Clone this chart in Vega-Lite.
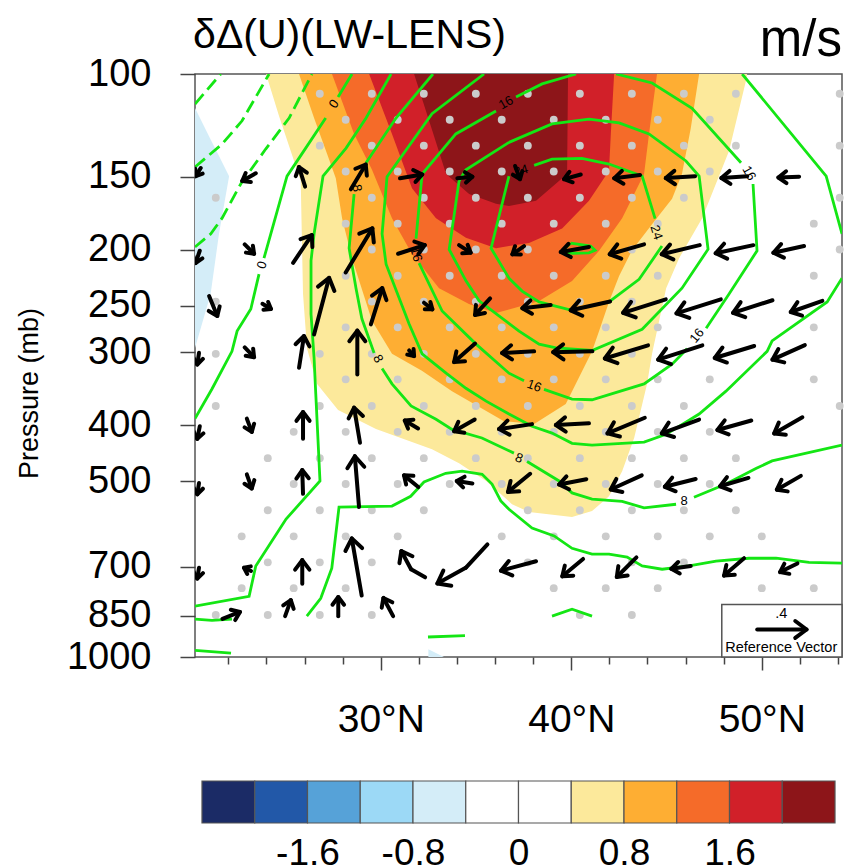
{"$schema":"https://vega.github.io/schema/vega-lite/v6.json","background":"white","padding":{"left":14,"top":14,"right":0,"bottom":0},"spacing":40,"config":{"font":"Liberation Sans"},"resolve":{"scale":{"color":"independent"}},
"datasets":{
"bands":[
{"band":"-0.4","lat":20.25,"p":295,"p2":114.4},{"band":"-0.4","lat":21.07,"p":238.5,"p2":129.5},{"band":"-0.4","lat":21.51,"p":188,"p2":138.3},{"band":"-0.4","lat":22.04,"p":149.7,"p2":149.7},
{"band":"-0.4b","lat":32.5,"p":1000,"p2":970},{"band":"-0.4b","lat":33.32,"p":1000,"p2":1000},
{"band":"0.4","lat":23.98,"p":100,"p2":100},{"band":"0.4","lat":24.66,"p":118,"p2":100},{"band":"0.4","lat":25.45,"p":141,"p2":100},{"band":"0.4","lat":25.8,"p":152.6,"p2":100},{"band":"0.4","lat":25.87,"p":199,"p2":100},{"band":"0.4","lat":25.92,"p":238.5,"p2":100},{"band":"0.4","lat":26.13,"p":295.8,"p2":100},{"band":"0.4","lat":26.66,"p":340.3,"p2":100},{"band":"0.4","lat":27.76,"p":377,"p2":100},{"band":"0.4","lat":29.75,"p":406.5,"p2":100},{"band":"0.4","lat":32.69,"p":440,"p2":100},{"band":"0.4","lat":34.11,"p":465,"p2":100},{"band":"0.4","lat":35.53,"p":499,"p2":100},{"band":"0.4","lat":36.89,"p":546.8,"p2":100},{"band":"0.4","lat":37.78,"p":564,"p2":100},{"band":"0.4","lat":40.04,"p":575,"p2":100},{"band":"0.4","lat":41.09,"p":562,"p2":100},{"band":"0.4","lat":41.98,"p":530,"p2":100},{"band":"0.4","lat":42.67,"p":480,"p2":100},{"band":"0.4","lat":43.3,"p":421,"p2":100},{"band":"0.4","lat":43.98,"p":340,"p2":100},{"band":"0.4","lat":44.24,"p":302,"p2":100},{"band":"0.4","lat":44.98,"p":233,"p2":100},{"band":"0.4","lat":45.66,"p":207,"p2":100},{"band":"0.4","lat":46.87,"p":176.7,"p2":100},{"band":"0.4","lat":48.28,"p":135.6,"p2":100},{"band":"0.4","lat":49.16,"p":103,"p2":100},{"band":"0.4","lat":49.23,"p":100,"p2":100},
{"band":"0.8","lat":25.71,"p":100,"p2":100},{"band":"0.8","lat":26.5,"p":119,"p2":100},{"band":"0.8","lat":27.18,"p":137,"p2":100},{"band":"0.8","lat":27.64,"p":151,"p2":100},{"band":"0.8","lat":27.97,"p":176.7,"p2":100},{"band":"0.8","lat":28.49,"p":207,"p2":100},{"band":"0.8","lat":29.54,"p":265,"p2":100},{"band":"0.8","lat":30.59,"p":302,"p2":100},{"band":"0.8","lat":32.16,"p":323,"p2":100},{"band":"0.8","lat":33.74,"p":350,"p2":100},{"band":"0.8","lat":36.47,"p":394,"p2":100},{"band":"0.8","lat":38.05,"p":398.6,"p2":100},{"band":"0.8","lat":39.71,"p":368,"p2":100},{"band":"0.8","lat":41.09,"p":299,"p2":100},{"band":"0.8","lat":41.46,"p":276,"p2":100},{"band":"0.8","lat":41.98,"p":246,"p2":100},{"band":"0.8","lat":42.51,"p":222,"p2":100},{"band":"0.8","lat":43.19,"p":200.5,"p2":100},{"band":"0.8","lat":44.24,"p":181,"p2":100},{"band":"0.8","lat":45.29,"p":163.6,"p2":100},{"band":"0.8","lat":45.81,"p":148.5,"p2":100},{"band":"0.8","lat":46.27,"p":124,"p2":100},{"band":"0.8","lat":46.71,"p":100,"p2":100},
{"band":"1.2","lat":27.44,"p":100,"p2":100},{"band":"1.2","lat":28.6,"p":126.7,"p2":100},{"band":"1.2","lat":29.54,"p":146,"p2":100},{"band":"1.2","lat":30.59,"p":176.7,"p2":100},{"band":"1.2","lat":31.64,"p":203.6,"p2":100},{"band":"1.2","lat":33.06,"p":233,"p2":100},{"band":"1.2","lat":34.63,"p":248,"p2":100},{"band":"1.2","lat":36.05,"p":257,"p2":100},{"band":"1.2","lat":36.73,"p":253.5,"p2":100},{"band":"1.2","lat":38.31,"p":245,"p2":100},{"band":"1.2","lat":40.04,"p":226.6,"p2":100},{"band":"1.2","lat":41.46,"p":201,"p2":100},{"band":"1.2","lat":42.67,"p":176.7,"p2":100},{"band":"1.2","lat":43.82,"p":148.5,"p2":100},{"band":"1.2","lat":44.08,"p":126.7,"p2":100},{"band":"1.2","lat":44.5,"p":100,"p2":100},
{"band":"1.6","lat":29.39,"p":100,"p2":100},{"band":"1.6","lat":30.59,"p":126.7,"p2":100},{"band":"1.6","lat":31.64,"p":157,"p2":100},{"band":"1.6","lat":32.9,"p":176.7,"p2":100},{"band":"1.6","lat":34.47,"p":191,"p2":100},{"band":"1.6","lat":36.05,"p":199,"p2":100},{"band":"1.6","lat":36.73,"p":197.3,"p2":100},{"band":"1.6","lat":37.78,"p":195,"p2":100},{"band":"1.6","lat":39.52,"p":184,"p2":100},{"band":"1.6","lat":40.93,"p":165,"p2":100},{"band":"1.6","lat":41.98,"p":146.5,"p2":100},{"band":"1.6","lat":42.09,"p":124,"p2":100},{"band":"1.6","lat":42.25,"p":100,"p2":100},
{"band":"2.0","lat":31.75,"p":100,"p2":100},{"band":"2.0","lat":32.69,"p":124.6,"p2":100},{"band":"2.0","lat":33.43,"p":148.5,"p2":100},{"band":"2.0","lat":34.64,"p":160.7,"p2":100},{"band":"2.0","lat":36.05,"p":167,"p2":100},{"band":"2.0","lat":36.73,"p":168.5,"p2":100},{"band":"2.0","lat":38.15,"p":165,"p2":100},{"band":"2.0","lat":39.78,"p":148.5,"p2":100},{"band":"2.0","lat":39.83,"p":100,"p2":100}
],
"dots":[
{"lat":26.8,"p":108.1},{"lat":29.53,"p":108.1},{"lat":32.26,"p":108.1},{"lat":34.99,"p":108.1},{"lat":37.72,"p":108.1},{"lat":40.45,"p":108.1},{"lat":43.18,"p":108.1},{"lat":45.91,"p":108.1},{"lat":48.64,"p":108.1},{"lat":54.09,"p":108.1},
{"lat":28.16,"p":119.8},{"lat":30.89,"p":119.8},{"lat":33.62,"p":119.8},{"lat":36.35,"p":119.8},{"lat":39.08,"p":119.8},{"lat":41.81,"p":119.8},{"lat":44.54,"p":119.8},{"lat":47.27,"p":119.8},
{"lat":26.8,"p":132.7},{"lat":29.53,"p":132.7},{"lat":32.26,"p":132.7},{"lat":34.99,"p":132.7},{"lat":37.72,"p":132.7},{"lat":40.45,"p":132.7},{"lat":43.18,"p":132.7},{"lat":45.91,"p":132.7},{"lat":48.64,"p":132.7},{"lat":54.09,"p":132.7},
{"lat":28.16,"p":147},{"lat":30.89,"p":147},{"lat":33.62,"p":147},{"lat":36.35,"p":147},{"lat":39.08,"p":147},{"lat":41.81,"p":147},{"lat":44.54,"p":147},{"lat":47.27,"p":147},
{"lat":21.34,"p":163},{"lat":29.53,"p":163},{"lat":32.26,"p":163},{"lat":34.99,"p":163},{"lat":37.72,"p":163},{"lat":40.45,"p":163},{"lat":43.18,"p":163},{"lat":45.91,"p":163},{"lat":54.09,"p":163},
{"lat":28.16,"p":180.6},{"lat":30.89,"p":180.6},{"lat":33.62,"p":180.6},{"lat":36.35,"p":180.6},{"lat":39.08,"p":180.6},{"lat":41.81,"p":180.6},{"lat":44.54,"p":180.6},{"lat":52.73,"p":180.6},
{"lat":29.53,"p":200},{"lat":32.26,"p":200},{"lat":34.99,"p":200},{"lat":37.72,"p":200},{"lat":43.18,"p":200},{"lat":54.09,"p":200},
{"lat":28.16,"p":221.8},{"lat":30.89,"p":221.8},{"lat":33.62,"p":221.8},{"lat":36.35,"p":221.8},{"lat":39.08,"p":221.8},{"lat":41.81,"p":221.8},{"lat":44.54,"p":221.8},{"lat":52.73,"p":221.8},
{"lat":21.34,"p":245.7},{"lat":29.53,"p":245.7},{"lat":32.26,"p":245.7},{"lat":34.99,"p":245.7},{"lat":37.72,"p":245.7},{"lat":40.45,"p":245.7},{"lat":43.18,"p":245.7},
{"lat":28.16,"p":272},{"lat":30.89,"p":272},{"lat":33.62,"p":272},{"lat":36.35,"p":272},{"lat":39.08,"p":272},{"lat":41.81,"p":272},{"lat":44.54,"p":272},{"lat":52.73,"p":272},
{"lat":21.34,"p":302},{"lat":26.8,"p":302},{"lat":29.53,"p":302},{"lat":32.26,"p":302},{"lat":34.99,"p":302},{"lat":37.72,"p":302},{"lat":40.45,"p":302},{"lat":43.18,"p":302},
{"lat":28.16,"p":334},{"lat":30.89,"p":334},{"lat":33.62,"p":334},{"lat":36.35,"p":334},{"lat":39.08,"p":334},{"lat":41.81,"p":334},{"lat":44.54,"p":334},{"lat":47.27,"p":334},{"lat":52.73,"p":334},
{"lat":21.34,"p":371},{"lat":26.8,"p":371},{"lat":29.53,"p":371},{"lat":32.26,"p":371},{"lat":34.99,"p":371},{"lat":37.72,"p":371},{"lat":40.45,"p":371},{"lat":43.18,"p":371},{"lat":45.91,"p":371},{"lat":54.09,"p":371},
{"lat":25.43,"p":411},{"lat":28.16,"p":411},{"lat":30.89,"p":411},{"lat":33.62,"p":411},{"lat":36.35,"p":411},{"lat":39.08,"p":411},{"lat":41.81,"p":411},{"lat":44.54,"p":411},{"lat":47.27,"p":411},
{"lat":24.07,"p":456},{"lat":26.8,"p":456},{"lat":29.53,"p":456},{"lat":32.26,"p":456},{"lat":34.99,"p":456},{"lat":37.72,"p":456},{"lat":40.45,"p":456},{"lat":43.18,"p":456},{"lat":45.91,"p":456},{"lat":48.64,"p":456},
{"lat":25.43,"p":505},{"lat":28.16,"p":505},{"lat":30.89,"p":505},{"lat":33.62,"p":505},{"lat":36.35,"p":505},{"lat":39.08,"p":505},{"lat":41.81,"p":505},{"lat":44.54,"p":505},{"lat":47.27,"p":505},
{"lat":24.07,"p":560},{"lat":26.8,"p":560},{"lat":29.53,"p":560},{"lat":32.26,"p":560},{"lat":37.72,"p":560},{"lat":40.45,"p":560},{"lat":43.18,"p":560},{"lat":45.91,"p":560},{"lat":48.64,"p":560},
{"lat":22.7,"p":621},{"lat":25.43,"p":621},{"lat":28.16,"p":621},{"lat":30.89,"p":621},{"lat":36.35,"p":621},{"lat":39.08,"p":621},{"lat":41.81,"p":621},{"lat":44.54,"p":621},{"lat":47.27,"p":621},{"lat":50.0,"p":621},
{"lat":24.07,"p":688},{"lat":26.8,"p":688},{"lat":29.53,"p":688},{"lat":37.72,"p":688},{"lat":43.18,"p":688},{"lat":45.91,"p":688},
{"lat":22.7,"p":762},{"lat":25.43,"p":762},{"lat":28.16,"p":762},{"lat":39.08,"p":762},{"lat":41.81,"p":762},{"lat":44.54,"p":762},{"lat":50.0,"p":762},{"lat":52.73,"p":762},
{"lat":21.34,"p":847},{"lat":24.07,"p":847},{"lat":26.8,"p":847},{"lat":29.53,"p":847},{"lat":40.45,"p":847},{"lat":43.18,"p":847}
],
"dashed":[
{"c":"a","lat":20.25,"p":112.6},{"c":"a","lat":21.6,"p":100},
{"c":"b","lat":20.25,"p":144.4},{"c":"b","lat":21.67,"p":131.9},{"c":"b","lat":22.72,"p":120.3},{"c":"b","lat":24.14,"p":100},
{"c":"c","lat":20.25,"p":198},{"c":"c","lat":21.08,"p":188},{"c":"c","lat":21.67,"p":176.7},{"c":"c","lat":22.65,"p":154.4},{"c":"c","lat":23.96,"p":134.5},{"c":"c","lat":25.19,"p":119},{"c":"c","lat":26.39,"p":100}
],
"contours":[
{"c":"0a","lat":28.49,"p":100},{"c":"0a","lat":27.76,"p":109.5},
{"c":"0b","lat":27.11,"p":119},{"c":"0b","lat":26.06,"p":134},{"c":"0b","lat":25.08,"p":149.7},{"c":"0b","lat":24.56,"p":172},{"c":"0b","lat":23.87,"p":207},
{"c":"0c","lat":23.61,"p":220.4},{"c":"0c","lat":23.18,"p":253},{"c":"0c","lat":22.46,"p":276},{"c":"0c","lat":22.19,"p":299},{"c":"0c","lat":21.14,"p":347},{"c":"0c","lat":20.25,"p":390},
{"c":"4","lat":30.54,"p":100},{"c":"4","lat":29.23,"p":119},{"c":"4","lat":28.18,"p":134},{"c":"4","lat":26.97,"p":149.7},{"c":"4","lat":26.5,"p":188},{"c":"4","lat":26.34,"p":209},{"c":"4","lat":26.34,"p":258},{"c":"4","lat":26.5,"p":307},{"c":"4","lat":26.59,"p":354},{"c":"4","lat":26.81,"p":499},{"c":"4","lat":25.03,"p":580},{"c":"4","lat":23.44,"p":698},{"c":"4","lat":23.09,"p":787},{"c":"4","lat":20.25,"p":818},
{"c":"8a","lat":32.74,"p":100},{"c":"8a","lat":30.8,"p":119},{"c":"8a","lat":29.23,"p":142},
{"c":"8b","lat":28.6,"p":160.7},{"c":"8b","lat":28.34,"p":199},{"c":"8b","lat":28.7,"p":233},{"c":"8b","lat":29.01,"p":263},{"c":"8b","lat":29.65,"p":301},
{"c":"8c","lat":30.07,"p":320},{"c":"8c","lat":30.59,"p":340},{"c":"8c","lat":31.59,"p":371},{"c":"8c","lat":32.9,"p":391},{"c":"8c","lat":33.74,"p":407},{"c":"8c","lat":35.31,"p":421},{"c":"8c","lat":36.99,"p":447},
{"c":"8d","lat":37.68,"p":462},{"c":"8d","lat":39.36,"p":499},{"c":"8d","lat":40.04,"p":523},{"c":"8d","lat":41.09,"p":536},{"c":"8d","lat":42.67,"p":541},{"c":"8d","lat":43.82,"p":555},{"c":"8d","lat":45.5,"p":547},
{"c":"8e","lat":46.44,"p":532},{"c":"8e","lat":48.12,"p":505},{"c":"8e","lat":49.69,"p":475},{"c":"8e","lat":50.54,"p":461},{"c":"8e","lat":54.21,"p":433},
{"c":"4b","lat":26.12,"p":851},{"c":"4b","lat":26.85,"p":793},{"c":"4b","lat":27.43,"p":704},{"c":"4b","lat":27.81,"p":553},{"c":"4b","lat":30.59,"p":551},{"c":"4b","lat":31.57,"p":530},{"c":"4b","lat":32.27,"p":501},{"c":"4b","lat":33.41,"p":484},{"c":"4b","lat":34.27,"p":480},{"c":"4b","lat":35.32,"p":486},{"c":"4b","lat":35.84,"p":505},{"c":"4b","lat":36.3,"p":540},{"c":"4b","lat":36.73,"p":558},{"c":"4b","lat":37.94,"p":601},{"c":"4b","lat":39.1,"p":620},{"c":"4b","lat":40.04,"p":651},{"c":"4b","lat":41.09,"p":666},{"c":"4b","lat":41.98,"p":666},{"c":"4b","lat":42.93,"p":674},{"c":"4b","lat":43.72,"p":698},{"c":"4b","lat":44.77,"p":707},{"c":"4b","lat":46.18,"p":698},{"c":"4b","lat":47.6,"p":685},{"c":"4b","lat":49.33,"p":677},{"c":"4b","lat":50.75,"p":677},{"c":"4b","lat":52.48,"p":688},{"c":"4b","lat":54.21,"p":690},
{"c":"s1","lat":20.25,"p":861},{"c":"s1","lat":21.14,"p":865},{"c":"s1","lat":22.19,"p":861},
{"c":"s2","lat":20.25,"p":974},{"c":"s2","lat":22.14,"p":985},
{"c":"s3","lat":32.48,"p":924},{"c":"s3","lat":34.42,"p":919},
{"c":"s4","lat":38.99,"p":851},{"c":"s4","lat":40.04,"p":828},{"c":"s4","lat":41.09,"p":851},
{"c":"12a","lat":35.42,"p":100},{"c":"12a","lat":32.69,"p":117},{"c":"12a","lat":30.33,"p":150},{"c":"12a","lat":30.07,"p":188},{"c":"12a","lat":30.28,"p":212},{"c":"12a","lat":31.49,"p":268.5},{"c":"12a","lat":32.17,"p":302},{"c":"12a","lat":33.43,"p":326},{"c":"12a","lat":34.47,"p":346},{"c":"12a","lat":35.53,"p":364},{"c":"12a","lat":36.73,"p":383},{"c":"12a","lat":37.94,"p":402},{"c":"12a","lat":38.99,"p":413},{"c":"12a","lat":40.04,"p":430},{"c":"12a","lat":41.09,"p":433},{"c":"12a","lat":42.67,"p":430},{"c":"12a","lat":43.82,"p":428},{"c":"12a","lat":44.98,"p":415},{"c":"12a","lat":46.71,"p":383},{"c":"12a","lat":48.12,"p":350},{"c":"12a","lat":50.28,"p":299},{"c":"12a","lat":50.54,"p":287},{"c":"12a","lat":53.43,"p":246},{"c":"12a","lat":54.21,"p":224},
{"c":"12b","lat":54.21,"p":188},{"c":"12b","lat":53.38,"p":149.7},{"c":"12b","lat":48.97,"p":100},
{"c":"16a","lat":40.25,"p":100},{"c":"16a","lat":38.47,"p":104},{"c":"16a","lat":37.1,"p":109.5},
{"c":"16b","lat":36.05,"p":115.7},{"c":"16b","lat":33.94,"p":126.7},{"c":"16b","lat":32.17,"p":148.5},{"c":"16b","lat":31.85,"p":191.6},
{"c":"16c","lat":32.01,"p":211},{"c":"16c","lat":33.22,"p":255},{"c":"16c","lat":35,"p":290.6},{"c":"16c","lat":36.73,"p":326},{"c":"16c","lat":37.52,"p":336},
{"c":"16d","lat":38.57,"p":347.5},{"c":"16d","lat":40.04,"p":361},{"c":"16d","lat":41.09,"p":362},{"c":"16d","lat":43.82,"p":340},{"c":"16d","lat":45.29,"p":314.5},{"c":"16d","lat":46.08,"p":296},
{"c":"16e","lat":47.08,"p":273},{"c":"16e","lat":48.28,"p":238.5},{"c":"16e","lat":49.75,"p":201},{"c":"16e","lat":49.54,"p":154.4},
{"c":"16f","lat":48.91,"p":142},{"c":"16f","lat":46.34,"p":114.5},{"c":"16f","lat":44.24,"p":103.6},{"c":"16f","lat":42.35,"p":100},
{"c":"20","lat":36.73,"p":131},{"c":"20","lat":38.99,"p":121.8},{"c":"20","lat":40.93,"p":119.5},{"c":"20","lat":42.51,"p":121.3},{"c":"20","lat":44.08,"p":126.7},{"c":"20","lat":46.02,"p":141},{"c":"20","lat":46.71,"p":149.7},{"c":"20","lat":47.18,"p":199.8},{"c":"20","lat":45.81,"p":233},{"c":"20","lat":43.72,"p":274},{"c":"20","lat":41.09,"p":298},{"c":"20","lat":39.2,"p":295},{"c":"20","lat":38.31,"p":290.6},{"c":"20","lat":37.26,"p":276},{"c":"20","lat":35.16,"p":245},{"c":"20","lat":34.48,"p":226.6},{"c":"20","lat":33.59,"p":200},{"c":"20","lat":34.11,"p":152.6},{"c":"20","lat":34.47,"p":146},{"c":"20","lat":36.73,"p":131},
{"c":"24a","lat":38.05,"p":143.5},{"c":"24a","lat":38.99,"p":140},{"c":"24a","lat":40.56,"p":139.5},{"c":"24a","lat":41.98,"p":142.7},{"c":"24a","lat":43.72,"p":149.7},{"c":"24a","lat":44.4,"p":177},
{"c":"24b","lat":44.76,"p":197.3},{"c":"24b","lat":43.56,"p":225},{"c":"24b","lat":41.98,"p":246},{"c":"24b","lat":39.98,"p":254},{"c":"24b","lat":38.31,"p":246},{"c":"24b","lat":37.42,"p":235.7},{"c":"24b","lat":36.73,"p":224},{"c":"24b","lat":35.79,"p":199},{"c":"24b","lat":36.73,"p":149.7},
{"c":"28","lat":39.97,"p":195},{"c":"28","lat":41.02,"p":197.3},{"c":"28","lat":41.25,"p":200.6},{"c":"28","lat":40.93,"p":202.7},{"c":"28","lat":40.04,"p":203},{"c":"28","lat":39.52,"p":201},{"c":"28","lat":39.97,"p":195}
],
"labels":[
{"lat":27.55,"p":112.6,"t":"0","angle":-55},{"lat":23.77,"p":212.7,"t":"0","angle":-72},{"lat":28.75,"p":157,"t":"8","angle":80},{"lat":31.85,"p":204,"t":"16","angle":75},{"lat":29.86,"p":308,"t":"8","angle":62},{"lat":37.26,"p":456,"t":"8","angle":20},{"lat":45.92,"p":541,"t":"8","angle":0},{"lat":36.57,"p":112,"t":"16","angle":-30},{"lat":38.05,"p":343,"t":"16","angle":20},{"lat":46.6,"p":281,"t":"16","angle":-50},{"lat":49.33,"p":148,"t":"16","angle":60},{"lat":37.36,"p":146.5,"t":"24","angle":-15},{"lat":44.46,"p":187,"t":"24","angle":72}
],
"arrows":[
{"lat":20.55,"p":145,"lat2":20.29,"p2":149.7,"dir":-147,"mag":0.07},{"lat":23.44,"p":148,"lat2":22.73,"p2":152.6,"dir":-120,"mag":0.12},{"lat":26.03,"p":156,"lat2":25.71,"p2":144.4,"dir":-17,"mag":0.16},{"lat":28.43,"p":157.7,"lat2":29.21,"p2":143,"dir":31,"mag":0.23},{"lat":31.01,"p":151,"lat2":32.18,"p2":148.7,"dir":79,"mag":0.18},{"lat":34.02,"p":151,"lat2":34.81,"p2":150,"dir":84,"mag":0.12},{"lat":37.05,"p":143.8,"lat2":37.31,"p2":151.5,"dir":159,"mag":0.11},{"lat":40.5,"p":148.7,"lat2":39.62,"p2":151.5,"dir":-107,"mag":0.14},{"lat":43.61,"p":149,"lat2":42.25,"p2":151,"dir":-97,"mag":0.21},{"lat":46.5,"p":149.7,"lat2":44.96,"p2":150.8,"dir":-93,"mag":0.23},{"lat":49.24,"p":149.7,"lat2":47.88,"p2":150.8,"dir":-94,"mag":0.21},{"lat":51.96,"p":150,"lat2":50.87,"p2":150.5,"dir":-92,"mag":0.17},
{"lat":20.5,"p":201,"lat2":20.28,"p2":211,"dir":-161,"mag":0.1},{"lat":22.86,"p":196,"lat2":23.35,"p2":203.4,"dir":135,"mag":0.1},{"lat":25.4,"p":210.8,"lat2":26.38,"p2":189,"dir":34,"mag":0.27},{"lat":28.16,"p":219,"lat2":29.56,"p2":184,"dir":31,"mag":0.41},{"lat":30.91,"p":203.4,"lat2":32.31,"p2":196.6,"dir":72.5,"mag":0.22},{"lat":34.11,"p":196.6,"lat2":34.72,"p2":202.5,"dir":122,"mag":0.11},{"lat":37.52,"p":197.3,"lat2":36.91,"p2":203.8,"dir":-125,"mag":0.11},{"lat":40.93,"p":198,"lat2":39.45,"p2":202,"dir":-100,"mag":0.23},{"lat":43.82,"p":196,"lat2":42.02,"p2":203.8,"dir":-106,"mag":0.29},{"lat":46.74,"p":196.6,"lat2":44.75,"p2":203.8,"dir":-103,"mag":0.31},{"lat":49.56,"p":196.6,"lat2":47.58,"p2":203,"dir":-102,"mag":0.31},{"lat":52.22,"p":197.3,"lat2":50.61,"p2":202.6,"dir":-102,"mag":0.25},
{"lat":20.99,"p":240.4,"lat2":21.42,"p2":260,"dir":157,"mag":0.17},{"lat":23.79,"p":247.8,"lat2":24.24,"p2":253,"dir":121,"mag":0.08},{"lat":26.5,"p":279.7,"lat2":27.29,"p2":223.7,"dir":15,"mag":0.47},{"lat":29.48,"p":268.8,"lat2":30.08,"p2":233,"dir":17.6,"mag":0.31},{"lat":32.27,"p":246.8,"lat2":32.71,"p2":253.3,"dir":128,"mag":0.08},{"lat":35.74,"p":242.6,"lat2":34.95,"p2":259,"dir":-138,"mag":0.18},{"lat":38.92,"p":249,"lat2":37.43,"p2":252.2,"dir":-97,"mag":0.23},{"lat":42.04,"p":245.6,"lat2":39.97,"p2":254.3,"dir":-102,"mag":0.32},{"lat":44.96,"p":243.5,"lat2":42.72,"p2":256.8,"dir":-107,"mag":0.36},{"lat":47.85,"p":243.5,"lat2":45.52,"p2":257.4,"dir":-107.5,"mag":0.37},{"lat":50.56,"p":244.4,"lat2":48.49,"p2":256.8,"dir":-107.5,"mag":0.33},{"lat":53.18,"p":245,"lat2":51.52,"p2":256,"dir":-109,"mag":0.27},
{"lat":20.46,"p":300.8,"lat2":20.37,"p2":315,"dir":-172,"mag":0.09},{"lat":22.86,"p":294.4,"lat2":23.35,"p2":306,"dir":137,"mag":0.11},{"lat":25.71,"p":319,"lat2":25.97,"p2":281.5,"dir":9,"mag":0.26},{"lat":28.77,"p":327.6,"lat2":28.77,"p2":275.5,"dir":0,"mag":0.35},{"lat":31.49,"p":298,"lat2":31.75,"p2":304.7,"dir":139,"mag":0.06},{"lat":34.95,"p":290,"lat2":33.85,"p2":312,"dir":-131,"mag":0.22},{"lat":38.05,"p":299,"lat2":36.37,"p2":301,"dir":-94,"mag":0.26},{"lat":41.11,"p":299,"lat2":39.05,"p2":300,"dir":-91.5,"mag":0.31},{"lat":44.03,"p":292,"lat2":41.76,"p2":307.6,"dir":-107,"mag":0.36},{"lat":46.88,"p":292,"lat2":44.56,"p2":309,"dir":-107.5,"mag":0.37},{"lat":49.6,"p":292.8,"lat2":47.53,"p2":307,"dir":-106.6,"mag":0.33},{"lat":52.26,"p":291.7,"lat2":50.56,"p2":309,"dir":-114,"mag":0.28},
{"lat":20.5,"p":402,"lat2":20.37,"p2":422.5,"dir":-169,"mag":0.1},{"lat":22.97,"p":390,"lat2":23.23,"p2":411,"dir":159,"mag":0.11},{"lat":25.92,"p":422.5,"lat2":25.92,"p2":380,"dir":0,"mag":0.22},{"lat":28.91,"p":429,"lat2":28.6,"p2":373.5,"dir":-10,"mag":0.28},{"lat":31.96,"p":405.6,"lat2":31.26,"p2":393,"dir":-59,"mag":0.12},{"lat":34.93,"p":391.5,"lat2":33.85,"p2":410,"dir":-119,"mag":0.19},{"lat":37.94,"p":398.6,"lat2":36.21,"p2":406.5,"dir":-98.6,"mag":0.27},{"lat":40.93,"p":397.4,"lat2":39.19,"p2":400,"dir":-93,"mag":0.27},{"lat":43.86,"p":388.7,"lat2":41.9,"p2":413.5,"dir":-113,"mag":0.32},{"lat":46.71,"p":391.5,"lat2":44.75,"p2":413.5,"dir":-110.6,"mag":0.32},{"lat":49.45,"p":393,"lat2":47.67,"p2":408,"dir":-106,"mag":0.28},{"lat":52.13,"p":388,"lat2":50.65,"p2":413.5,"dir":-120,"mag":0.26},
{"lat":20.46,"p":503,"lat2":20.37,"p2":526,"dir":-172,"mag":0.09},{"lat":22.97,"p":486,"lat2":23.23,"p2":514,"dir":160,"mag":0.12},{"lat":25.92,"p":525,"lat2":25.88,"p2":478,"dir":-2,"mag":0.19},{"lat":28.86,"p":553,"lat2":28.64,"p2":452.5,"dir":-5,"mag":0.41},{"lat":31.97,"p":511,"lat2":31.22,"p2":488,"dir":-50,"mag":0.15},{"lat":34.81,"p":504,"lat2":33.99,"p2":499,"dir":-82,"mag":0.13},{"lat":37.84,"p":485,"lat2":36.68,"p2":521,"dir":-130,"mag":0.23},{"lat":40.79,"p":495.5,"lat2":39.36,"p2":506,"dir":-101,"mag":0.22},{"lat":43.7,"p":488,"lat2":42.07,"p2":516,"dir":-115,"mag":0.27},{"lat":46.53,"p":495,"lat2":44.91,"p2":510.6,"dir":-104.5,"mag":0.26},{"lat":49.3,"p":493,"lat2":47.81,"p2":509.5,"dir":-106,"mag":0.24},{"lat":52.05,"p":489,"lat2":50.79,"p2":516.4,"dir":-118,"mag":0.22},
{"lat":20.46,"p":703,"lat2":20.37,"p2":733.6,"dir":-171,"mag":0.09},{"lat":23.19,"p":712,"lat2":22.82,"p2":703,"dir":-65,"mag":0.06},{"lat":25.88,"p":749,"lat2":25.88,"p2":682,"dir":0,"mag":0.27},{"lat":29,"p":784.5,"lat2":28.48,"p2":626,"dir":-10,"mag":0.46},{"lat":32.33,"p":730,"lat2":31.59,"p2":707},{"lat":31.59,"p":707,"lat2":31.08,"p2":658,"dir":-28,"mag":0.29},{"lat":35.6,"p":641,"lat2":34.46,"p2":703},{"lat":34.46,"p":703,"lat2":32.97,"p2":748,"dir":-118,"mag":0.4},{"lat":38.15,"p":685,"lat2":36.31,"p2":711,"dir":-104,"mag":0.29},{"lat":40.62,"p":679,"lat2":39.53,"p2":727,"dir":-130,"mag":0.22},{"lat":43.42,"p":674.5,"lat2":42.39,"p2":729,"dir":-135,"mag":0.22},{"lat":46.27,"p":698,"lat2":45.25,"p2":706,"dir":-98,"mag":0.16},{"lat":49.07,"p":677,"lat2":48.02,"p2":725,"dir":-131,"mag":0.21},{"lat":51.87,"p":691,"lat2":50.96,"p2":715,"dir":-116,"mag":0.15},
{"lat":21.69,"p":860,"lat2":22.61,"p2":837,"dir":67,"mag":0.15},{"lat":24.98,"p":851,"lat2":25.28,"p2":799,"dir":19,"mag":0.14},{"lat":27.77,"p":851,"lat2":27.77,"p2":789,"dir":0,"mag":0.16},{"lat":30.65,"p":851,"lat2":30.14,"p2":792,"dir":-27,"mag":0.17},
{"lat":49.76,"p":897,"lat2":52.35,"p2":897,"dir":90,"mag":0.4}
],
"refbox":[{"lat":47.9,"p":812.6,"lat2":54.21,"p2":1000}],
"reftext":[{"lat":51.02,"p":845,"t":".4"},{"lat":51.02,"p":965,"t":"Reference Vector"}],
"headL":[{"lat":20.15,"p":90.2,"t":"δΔ(U)(LW-LENS)"}],
"headR":[{"lat":54.21,"p":93.1,"t":"m/s"}],
"bar":[{"lo":-2.4,"hi":-2.0},{"lo":-2.0,"hi":-1.6},{"lo":-1.6,"hi":-1.2},{"lo":-1.2,"hi":-0.8},{"lo":-0.8,"hi":-0.4},{"lo":-0.4,"hi":0},{"lo":0,"hi":0.4},{"lo":0.4,"hi":0.8},{"lo":0.8,"hi":1.2},{"lo":1.2,"hi":1.6},{"lo":1.6,"hi":2.0},{"lo":2.0,"hi":2.4}]
},
"vconcat":[
{"width":647,"height":583,"view":{"stroke":"#555","strokeWidth":1.5},
"encoding":{
"x":{"field":"lat","type":"quantitative","title":null,"scale":{"domain":[20.25,54.21],"nice":false,"zero":false},
 "axis":{"values":[22,24,26,28,30,32,34,36,38,40,42,44,46,48,50,52,54],"grid":false,"domain":false,"tickColor":"#444","tickWidth":1.5,"tickSize":{"expr":"datum.value%10===0?13:7"},"labelExpr":"datum.value%10===0?datum.value+'°N':''","labelFontSize":39,"labelFont":"Liberation Sans","labelColor":"black","labelPadding":30,"labelOverlap":false,"labelFlush":false,"labelBound":false}},
"y":{"field":"p","type":"quantitative","stack":null,"scale":{"type":"log","domain":[1000,100],"nice":false,"zero":false},"title":"Pressure (mb)",
 "axis":{"values":[100,150,200,250,300,400,500,700,850,1000],"grid":false,"domain":false,"tickColor":"#444","tickWidth":1.5,"tickSize":15,"labelFontSize":38,"labelFont":"Liberation Sans","labelColor":"black","labelPadding":29,"labelOverlap":false,"labelFlush":false,"labelBound":false,"format":"d","titleFontSize":27,"titleFont":"Liberation Sans","titleFontWeight":"normal","titleColor":"black","titleX":-166,"titleY":319,"titleBaseline":"middle","titleAnchor":"middle"}}},
"layer":[
{"data":{"name":"bands"},"mark":{"type":"area","clip":true,"opacity":1,"line":false},"encoding":{"y2":{"field":"p2"},"color":{"field":"band","type":"nominal","legend":null,"scale":{"domain":["-0.4","-0.4b","0.4","0.8","1.2","1.6","2.0"],"range":["#d4edf8","#d4edf8","#fce99b","#feae33","#f56b29","#d12029","#8d1519"]}}}},
{"data":{"name":"dots"},"mark":{"type":"point","shape":"circle","filled":true,"opacity":1,"color":"#cbcbcb","size":62}},
{"data":{"name":"contours"},"mark":{"type":"line","clip":true,"color":"#14e614","strokeWidth":2.8},"encoding":{"detail":{"field":"c"},"order":{"value":null}}},
{"data":{"name":"dashed"},"mark":{"type":"line","clip":true,"color":"#14e614","strokeWidth":2.8,"strokeDash":[13,6]},"encoding":{"detail":{"field":"c"},"order":{"value":null}}},
{"data":{"name":"labels"},"mark":{"type":"text","fontSize":13,"color":"black","font":"Liberation Sans"},"encoding":{"text":{"field":"t"},"angle":{"field":"angle","type":"quantitative","scale":null}}},
{"data":{"name":"refbox"},"mark":{"type":"rect","fill":"white","stroke":"#555","strokeWidth":1.5},"encoding":{"x2":{"field":"lat2"},"y2":{"field":"p2"}}},
{"data":{"name":"reftext"},"mark":{"type":"text","fontSize":14.5,"color":"black","font":"Liberation Sans"},"encoding":{"text":{"field":"t"}}},
{"data":{"name":"arrows"},"mark":{"type":"rule","color":"black","strokeWidth":4,"strokeCap":"round","clip":true},"encoding":{"x2":{"field":"lat2"},"y2":{"field":"p2"}}},
{"data":{"name":"arrows"},"transform":[{"filter":"isValid(datum.dir)"}],"mark":{"type":"point","shape":"M -0.6 0.8 L 0 0 L 0.6 0.8","filled":false,"opacity":1,"color":"black","strokeWidth":4,"strokeCap":"round","strokeJoin":"round","clip":true},"encoding":{"x":{"field":"lat2","type":"quantitative"},"y":{"field":"p2","type":"quantitative"},"angle":{"field":"dir","type":"quantitative","scale":null},"size":{"field":"mag","type":"quantitative","legend":null,"scale":{"domain":[0,0.4],"range":[90,800],"zero":false,"clamp":true}}}},
{"data":{"name":"headL"},"mark":{"type":"text","align":"left","baseline":"alphabetic","fontSize":41,"color":"black","font":"Liberation Sans"},"encoding":{"text":{"field":"t"}}},
{"data":{"name":"headR"},"mark":{"type":"text","align":"right","baseline":"alphabetic","fontSize":51,"color":"black","font":"Liberation Sans"},"encoding":{"text":{"field":"t"}}}
]},
{"width":647,"height":42,"view":{"stroke":null},"data":{"name":"bar"},
"mark":{"type":"rect","stroke":"#555","strokeWidth":1.2},
"encoding":{
"x":{"field":"lo","type":"quantitative","title":null,"scale":{"domain":[-2.453,2.453],"nice":false,"zero":false},"axis":{"values":[-1.6,-0.8,0,0.8,1.6],"domain":false,"ticks":false,"grid":false,"labelExpr":"''+datum.value","labelFontSize":37,"labelFont":"Liberation Sans","labelColor":"black","labelPadding":12,"labelFlush":false,"labelOverlap":false}},
"x2":{"field":"hi"},
"color":{"field":"lo","type":"ordinal","legend":null,"scale":{"domain":[-2.4,-2.0,-1.6,-1.2,-0.8,-0.4,0,0.4,0.8,1.2,1.6,2.0],"range":["#1b2b66","#2258a8","#56a2d8","#9cd9f6","#d4edf8","#ffffff","#ffffff","#fce99b","#feae33","#f56b29","#d12029","#8d1519"]}}}}
]}
